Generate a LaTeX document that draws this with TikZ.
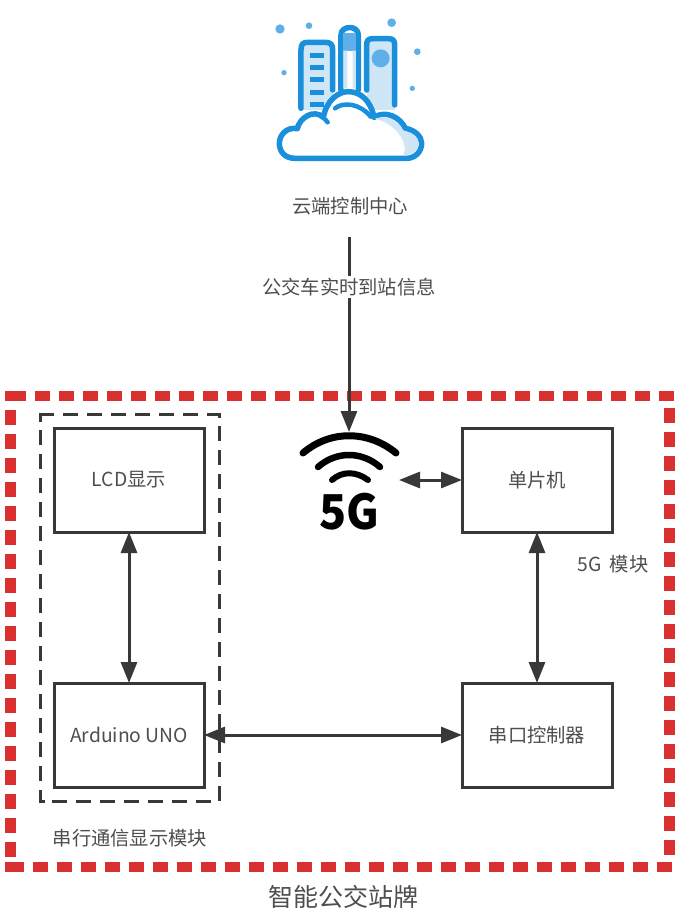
\documentclass[tikz,border=0pt]{standalone}
\usepackage{fontspec}
\setmainfont{Noto Sans CJK SC}
\usetikzlibrary{arrows.meta}
\definecolor{ink}{HTML}{383838}
\definecolor{txt}{HTML}{4E4E4E}
\definecolor{redd}{HTML}{D93030}
\definecolor{ic}{HTML}{1A8FDC}
\definecolor{icl}{HTML}{CFE6F6}
\definecolor{icm}{HTML}{5FB0E8}
\tikzset{
 x=1pt,y=-1pt,
 block/.style={draw=ink,line width=3pt,minimum width=150pt,minimum height=104pt,outer sep=0pt,inner sep=0pt,font=\fontsize{19.3}{22}\selectfont,text=txt},
 lbl/.style={inner sep=0pt,font=\fontsize{19.3}{22}\selectfont,text=txt},
 conn/.style={draw=ink,line width=3pt,{Triangle[length=21pt,width=16pt]}-{Triangle[length=21pt,width=16pt]}},
 oneway/.style={draw=ink,line width=3pt,-{Triangle[length=21pt,width=16pt]}},
 reddash/.style={draw=redd,line width=10.5pt,dash pattern=on 15pt off 9pt},
 blackdash/.style={draw=ink,line width=3pt,dash pattern=on 15pt off 9pt},
 iconline/.style={draw=ic,line width=5.5pt,line cap=round,line join=round},
}
\begin{document}
\begin{tikzpicture}
\useasboundingbox (0,0) rectangle (678,922);
\fill[white] (0,0) rectangle (678,922);
% red frame
\draw[reddash] (10.5,396) -- (674,396);
\draw[reddash] (9,867) -- (674,867);
\draw[reddash] (10.5,410) -- (10.5,857);
\draw[reddash] (669.5,408) -- (669.5,855);
\fill[redd] (5,391) rectangle (12,401);
\fill[redd] (5,862) rectangle (12,872);
% dashed module frame
\draw[blackdash] (39,414) -- (220.5,414);
\draw[blackdash] (40,430) -- (40,803);
\draw[blackdash] (52,801.5) -- (211,801.5);
\draw[blackdash] (219,426) -- (219,801);
\draw[draw=ink,line width=3pt] (40,422) -- (40,414);
\draw[draw=ink,line width=3pt] (219,418) -- (219,414);
\draw[draw=ink,line width=3pt] (40,801.5) -- (45,801.5);
% blocks
\node[block] (lcd) at (129,480) {LCD显示};
\node[block] (mcu) at (537,480) {单片机};
\node[block] (uno) at (129,735) {Arduino UNO};
\node[block] (ser) at (537,735) {串口控制器};
% labels
\node[lbl] (cloudtxt) at (350,206) {云端控制中心};
\node[lbl,fill=white,inner ysep=2pt] (info) at (349,287) {公交车实时到站信息};
\node[lbl] (m5g) at (613,564) {5G\hspace{4pt} 模块};
\node[lbl] (mser) at (130,838) {串行通信显示模块};
\node[inner sep=0pt,font=\fontsize{25}{28}\selectfont,text=txt] (title) at (343,897) {智能公交站牌};
% 5G icon
\begin{scope}[line cap=round,draw=black]
\draw[line width=7pt] (303,453) .. controls (330,430) and (368,430) .. (396,453);
\draw[line width=6.5pt] (318,467) .. controls (336,451) and (362,451) .. (380,467);
\draw[line width=6pt] (332,480) .. controls (342,471) and (356,471) .. (368,480);
\end{scope}
\node[inner sep=0pt,xscale=.93,font=\bfseries\fontsize{48}{50}\selectfont,text=black] (fiveg) at (349,512) {5G};
\coordinate (wifitop) at (349,432);
\coordinate (wifiright) at (399,480);
\coordinate (cloudbot) at (349,237);
% connectors
\draw[draw=ink,line width=3pt] (cloudbot) -- (info.north);
\draw[oneway] (info.south) -- (wifitop);
\draw[conn] (wifiright) -- (mcu.west);
\draw[conn] (lcd.south) -- (uno.north);
\draw[conn] (mcu.south) -- (ser.north);
\draw[conn] (uno.east) -- (ser.west);
% cloud city icon (traced in 3x crop units)
\begin{scope}[shift={(260,10)},x=0.3333pt,y=-0.3333pt]
\fill[icl] (123,105) rectangle (218,300);
\fill[icl] (320,90) rectangle (405,300);
\draw[iconline,fill=white] (243,240) -- (243,75) .. controls (243,45) and (295,45) .. (295,75) -- (295,240);
\fill[icm] (250,70) rectangle (288,122);
\fill[icl] (250,122) rectangle (262,235) (278,122) rectangle (288,235);
\draw[iconline] (123,295) -- (123,120) .. controls (123,100) and (130,97) .. (145,97) -- (195,97) .. controls (212,97) and (218,103) .. (218,120) -- (218,240);
\draw[iconline] (320,240) -- (320,105) .. controls (320,90) and (325,86) .. (340,86) -- (385,86) .. controls (400,86) and (404,92) .. (404,105) -- (404,285);
\fill[icm] (362,145) circle (27);
\foreach \yy in {135,172,210,247,285}{\draw[draw=ic,line width=5pt] (150,\yy) -- (192,\yy);}
% cloud
\draw[iconline,fill=white] (105,445)
 .. controls (75,445) and (58,425) .. (58,400)
 .. controls (58,375) and (80,350) .. (112,356)
 .. controls (118,325) and (160,295) .. (190,322)
 .. controls (200,270) and (235,245) .. (265,245)
 .. controls (300,245) and (332,270) .. (342,322)
 .. controls (375,300) and (420,320) .. (436,355)
 .. controls (465,360) and (485,380) .. (485,400)
 .. controls (485,425) and (465,445) .. (440,445) -- cycle;
\fill[icl] (345,326) .. controls (375,314) and (415,329) .. (430,362) .. controls (458,367) and (476,382) .. (476,400) .. controls (476,420) and (463,434) .. (430,436) .. controls (445,410) and (420,345) .. (345,326);
\draw[draw=ic,line width=4.5pt,line cap=round] (225,295) .. controls (250,275) and (300,280) .. (332,320);
\draw[draw=ic,line width=4.5pt,line cap=round] (190,322) -- (203,337);
\foreach \px/\py/\rr in {60/57/14,147/47/10,395/38/13,472/125/10,72/188/8,457/235/8}{\fill[icm] (\px,\py) circle (\rr);}
\end{scope}
\end{tikzpicture}
\end{document}
